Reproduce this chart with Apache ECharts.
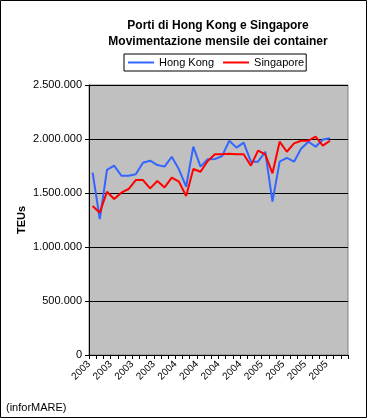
<!DOCTYPE html>
<html><head><meta charset="utf-8">
<script src="https://cdn.jsdelivr.net/npm/echarts@6/dist/echarts.min.js"></script>
<style>html,body{margin:0;padding:0;background:#fff}#c{width:367px;height:418px}</style>
</head><body><div id="c"></div>
<script>
// categories: months Jan 2003 - Dec 2005, labelled by year
var categories = [
 "2003","2003","2003","2003","2003","2003","2003","2003","2003","2003","2003","2003",
 "2004","2004","2004","2004","2004","2004","2004","2004","2004","2004","2004","2004",
 "2005","2005","2005","2005","2005","2005","2005","2005","2005","2005","2005","2005"];
var hongKong = [1688000,1259000,1715000,1753000,1660000,1660000,1673000,1780000,1799000,1759000,1744000,1836000,
 1719000,1558000,1929000,1744000,1812000,1815000,1842000,1984000,1920000,1966000,1790000,1790000,
 1882000,1420000,1790000,1825000,1790000,1913000,1975000,1929000,1995000,2006000,null,null];
var singapore = [1380000,1318000,1512000,1444000,1503000,1537000,1620000,1620000,1543000,1611000,1552000,1642000,
 1605000,1472000,1722000,1697000,1796000,1858000,1858000,1864000,1858000,1858000,1753000,1892000,
 1858000,1682000,1975000,1882000,1960000,1984000,1984000,2021000,1938000,1984000,null,null];
var yTicks = {min:0, max:2500000, interval:500000};

function fmt(v){ return String(v).replace(/\B(?=(\d{3})+(?!\d))/g, '.'); }

var chart = echarts.init(document.getElementById('c'), null, {renderer:'canvas'});
chart.setOption({
  animation:false,
  backgroundColor:'#ffffff',
  textStyle:{fontFamily:'Arial, Liberation Sans, sans-serif'},
  title:{
    text:'Porti di Hong Kong e Singapore\nMovimentazione mensile dei container',
    left:213, top:13, textAlign:'center',
    textStyle:{fontSize:12, fontWeight:'bold', color:'#000', lineHeight:16, fontFamily:'Arial, Liberation Sans, sans-serif'}
  },
  legend:{
    left:124, top:54, orient:'horizontal',
    padding:[3,2,3,4], itemGap:9,
    borderColor:'#000', borderWidth:1,
    icon:'rect', itemWidth:26, itemHeight:2,
    textStyle:{fontSize:11, color:'#000'},
    data:['Hong Kong','Singapore']
  },
  grid:{left:89, right:19, top:85, bottom:63, show:true, backgroundColor:'#C0C0C0', borderColor:'#808080', borderWidth:1},
  xAxis:{
    type:'category', data:categories, boundaryGap:true,
    axisLine:{lineStyle:{color:'#000', width:1}},
    axisTick:{show:true, interval:0, length:4, lineStyle:{color:'#000'}},
    axisLabel:{interval:2, rotate:45, fontSize:10, color:'#000', margin:4, padding:[0,5,10,0]}
  },
  yAxis:{
    type:'value', min:yTicks.min, max:yTicks.max, interval:yTicks.interval,
    name:'TEUs', nameLocation:'middle', nameGap:62, nameMoveOverlap:false,
    nameTextStyle:{fontSize:11, fontWeight:'bold', color:'#000'},
    axisLine:{show:true, lineStyle:{color:'#000'}},
    axisTick:{show:true, length:4, lineStyle:{color:'#000'}},
    axisLabel:{fontSize:11, color:'#000', margin:7, formatter:fmt},
    splitLine:{show:true, lineStyle:{color:'#000', width:1}}
  },
  series:[
    {name:'Hong Kong', type:'line', data:hongKong, symbol:'none', showSymbol:false,
     lineStyle:{color:'#3366FF', width:2}, itemStyle:{color:'#3366FF'}},
    {name:'Singapore', type:'line', data:singapore, symbol:'none', showSymbol:false,
     lineStyle:{color:'#FF0000', width:2}, itemStyle:{color:'#FF0000'}}
  ],
  graphic:[
    {type:'rect', shape:{x:0.5, y:0.5, width:366, height:417}, style:{fill:null, stroke:'#000', lineWidth:1}, silent:true, z:100},
    {type:'text', left:6, top:402, style:{text:'(inforMARE)', fontSize:11, fill:'#000', font:'11px Arial, Liberation Sans, sans-serif'}}
  ]
});
</script>
</body></html>
